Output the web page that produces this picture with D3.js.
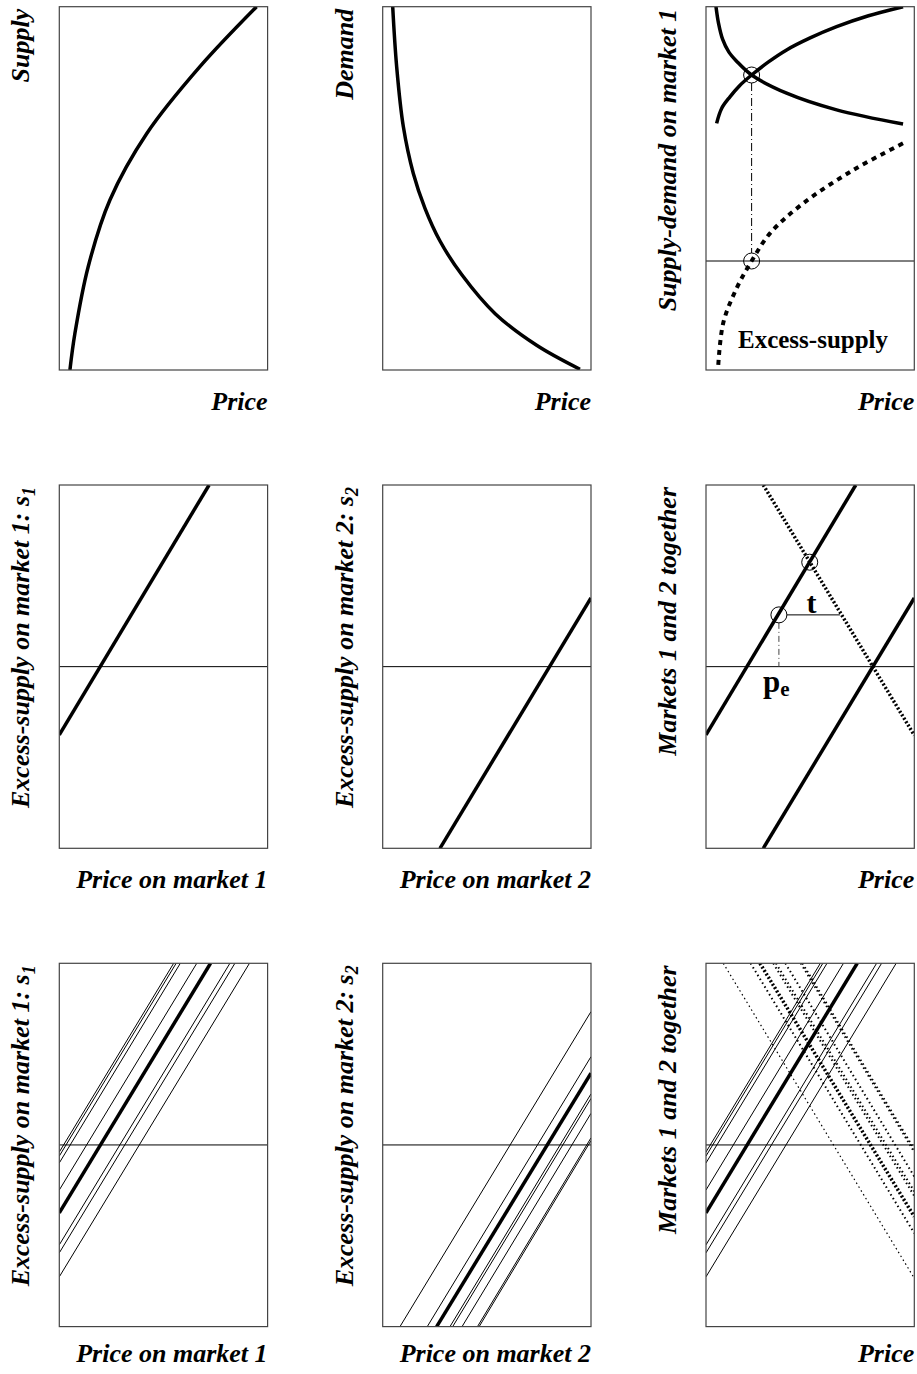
<!DOCTYPE html>
<html>
<head>
<meta charset="utf-8">
<script src="https://cdn.jsdelivr.net/npm/d3@7"></script>
<style>
    body { margin: 0; background: #fff; }
    svg text { font-family: "Liberation Serif", "Times New Roman", serif; font-weight: bold; }
</style>
</head>
<body>
<div id="chart"></div>
<script>
//Datos (precio en eje x, cantidad en eje y)

//Fila 1 - oferta y demanda
const supplyPrice = [0.51, 0.75, 1.39, 2.43, 4.20, 6.75, 9.47];
const supplyQty = [0, 1.01, 2.85, 4.68, 6.51, 8.35, 10];
const demandPrice = [0.48, 0.67, 0.99, 1.47, 2.03, 2.75, 3.80, 5.40, 7.39, 9.47];
const demandQty = [10, 8.35, 6.70, 5.41, 4.45, 3.55, 2.62, 1.55, 0.68, 0.02];

//Mercado 1: oferta, demanda y exceso de oferta
const m1SupplyPrice = [0.51, 0.75, 1.15, 1.60, 2.19, 3.00, 3.87, 5.00, 6.27, 7.80, 9.46];
const m1SupplyQty = [3.79, 4.20, 4.52, 4.82, 5.12, 5.48, 5.81, 6.14, 6.45, 6.75, 7.00];
const m1DemandPrice = [0.48, 0.60, 0.80, 1.10, 1.47, 2.19, 3.87, 6.27, 9.46];
const m1DemandQty = [7.00, 6.55, 6.10, 5.75, 5.50, 5.12, 4.62, 4.16, 3.77];
const m1ExcessPrice = [0.59, 0.83, 1.47, 2.19, 3.07, 4.67, 7.06, 9.46];
const m1ExcessQty = [-2.86, -1.70, -0.75, 0, 0.76, 1.59, 2.50, 3.24];
const m1EqPrice = 2.19, m1EqQty = 5.12;

//Fila 2 - curvas de exceso de oferta (dos puntos por recta)
const s1Line = [[0, -3.76], [7.19, 10]];
const s2Line = [[2.75, -10], [10, 3.78]];
const jointCircles = [[4.98, 5.75], [3.50, 2.85]];
const tariffLevel = 2.85, tariffFrom = 3.50, tariffTo = 6.43;

//Fila 3 - escenarios (la gruesa es el caso base)
const s1LeftQty = [-0.39, -0.61, -0.99, -2.48, -3.74, -5.50, -5.94, -7.26];
const s1TopPrice = [5.49, 5.61, 5.81, 6.60, 7.26, 8.19, 8.43, 9.13];
const s1Base = 4;
const s2BottomPrice = [0.83, 2.14, 2.59, 3.23, 3.36, 3.81, 4.55, 4.63];
const s2RightQty = [7.34, 4.86, 3.95, 2.81, 2.56, 1.74, 0.39, 0.24];
const s2Base = 2;

//Textos
const yLabels = [
    ['Supply', 'Demand', 'Supply-demand on market 1'],
    [['Excess-supply on market 1: s', '1'], ['Excess-supply on market 2: s', '2'], 'Markets 1 and 2 together'],
    [['Excess-supply on market 1: s', '1'], ['Excess-supply on market 2: s', '2'], 'Markets 1 and 2 together']
];
const xLabels = [
    ['Price', 'Price', 'Price'],
    ['Price on market 1', 'Price on market 2', 'Price'],
    ['Price on market 1', 'Price on market 2', 'Price']
];

//Maquetación
const colX = [59.3, 382.7, 706], rowY = [6.7, 485, 963.3];
const W = 208.3, H = 363.3;
const xLabelGap = [40, 40, 35];
const FONT = 26;
const R = 8;

let svg = d3.select('#chart').append('svg')
    .attr('width', 917)
    .attr('height', 1374);

let clipId = 0;

function makePanel(row, col, yDomain) {
    let left = colX[col], top = rowY[row];
    let x = d3.scaleLinear().domain([0, 10]).range([left, left + W]);
    let y = d3.scaleLinear().domain(yDomain).range([top + H, top]);

    let id = 'clip' + (clipId++);
    svg.append('clipPath').attr('id', id)
        .append('rect').attr('x', left).attr('y', top).attr('width', W).attr('height', H);

    let outer = svg.append('g');
    let g = outer.append('g').attr('clip-path', 'url(#' + id + ')');

    //Etiqueta eje y (girada)
    let lab = yLabels[row][col];
    let yt = outer.append('text')
        .attr('transform', 'translate(' + (left - 30) + ',' + (top + 2) + ') rotate(-90)')
        .attr('text-anchor', 'end')
        .style('font-style', 'italic')
        .style('font-size', FONT + 'px');
    if (Array.isArray(lab)) {
        yt.append('tspan').text(lab[0]);
        yt.append('tspan').attr('dy', '0.3em').style('font-size', '18px').text(lab[1]);
    } else {
        yt.text(lab);
    }

    //Etiqueta eje x
    outer.append('text')
        .attr('x', left + W)
        .attr('y', top + H + xLabelGap[row])
        .attr('text-anchor', 'end')
        .style('font-style', 'italic')
        .style('font-size', FONT + 'px')
        .text(xLabels[row][col]);

    return { g: g, outer: outer, x: x, y: y, left: left, top: top };
}

function drawBox(p) {
    p.outer.append('rect')
        .attr('x', p.left).attr('y', p.top)
        .attr('width', W).attr('height', H)
        .attr('fill', 'none')
        .attr('stroke', '#444')
        .attr('stroke-width', 1.2);
}

function zeroLine(p) {
    p.g.append('line')
        .attr('x1', p.x(0)).attr('x2', p.x(10))
        .attr('y1', p.y(0)).attr('y2', p.y(0))
        .attr('stroke', '#000')
        .attr('stroke-width', 1);
}

function path(p, pts, width, dash) {
    let line = d3.line()
        .x(function(d) { return p.x(d[0]); })
        .y(function(d) { return p.y(d[1]); })
        .curve(d3.curveCatmullRom.alpha(0.5));
    return p.g.append('path')
        .attr('d', line(pts))
        .attr('fill', 'none')
        .attr('stroke', '#000')
        .attr('stroke-width', width)
        .attr('stroke-dasharray', dash || null);
}

function circle(p, pt) {
    p.outer.append('circle')
        .attr('cx', p.x(pt[0])).attr('cy', p.y(pt[1]))
        .attr('r', R)
        .attr('fill', 'none')
        .attr('stroke', '#000')
        .attr('stroke-width', 1);
}

const zip = (a, b) => a.map((v, i) => [v, b[i]]);

/////
// Fila 1
/////
let p11 = makePanel(0, 0, [0, 10]);
path(p11, zip(supplyPrice, supplyQty), 3.5);
drawBox(p11);

let p12 = makePanel(0, 1, [0, 10]);
path(p12, zip(demandPrice, demandQty), 3.5);
drawBox(p12);

let p13 = makePanel(0, 2, [-3, 7]);
zeroLine(p13);
path(p13, zip(m1SupplyPrice, m1SupplyQty), 3.5);
path(p13, zip(m1DemandPrice, m1DemandQty), 3.5);
path(p13, zip(m1ExcessPrice, m1ExcessQty), 4, '5,5');
p13.g.append('line')
    .attr('x1', p13.x(m1EqPrice)).attr('x2', p13.x(m1EqPrice))
    .attr('y1', p13.y(m1EqQty) + R).attr('y2', p13.y(0) - R)
    .attr('stroke', '#000').attr('stroke-width', 1)
    .attr('stroke-dasharray', '8,3,1,3');
circle(p13, [m1EqPrice, m1EqQty]);
circle(p13, [m1EqPrice, 0]);
p13.outer.append('text')
    .attr('x', p13.left + 32)
    .attr('y', p13.top + H - 22)
    .style('font-size', '25px')
    .text('Excess-supply');
drawBox(p13);

/////
// Fila 2
/////
let p21 = makePanel(1, 0, [-10, 10]);
zeroLine(p21);
path(p21, s1Line, 3.5);
drawBox(p21);

let p22 = makePanel(1, 1, [-10, 10]);
zeroLine(p22);
path(p22, s2Line, 3.5);
drawBox(p22);

let p23 = makePanel(1, 2, [-10, 10]);
zeroLine(p23);
path(p23, s1Line, 3.5);
path(p23, s2Line, 3.5);
//Demanda del mercado 2 vista desde el mercado 1: -s2
path(p23, s2Line.map(function(d) { return [d[0], -d[1]]; }), 3.5, '2,2');
p23.g.append('line')
    .attr('x1', p23.x(tariffFrom) + R).attr('x2', p23.x(tariffTo))
    .attr('y1', p23.y(tariffLevel)).attr('y2', p23.y(tariffLevel))
    .attr('stroke', '#000').attr('stroke-width', 1);
p23.g.append('line')
    .attr('x1', p23.x(tariffFrom)).attr('x2', p23.x(tariffFrom))
    .attr('y1', p23.y(tariffLevel) + R).attr('y2', p23.y(0))
    .attr('stroke', '#444').attr('stroke-width', 1)
    .attr('stroke-dasharray', '6,3,1,3');
jointCircles.forEach(function(c) { circle(p23, c); });
p23.outer.append('text')
    .attr('x', (p23.x(tariffFrom) + R + p23.x(tariffTo)) / 2 - 2)
    .attr('y', p23.y(tariffLevel) - 2)
    .attr('text-anchor', 'middle')
    .style('font-size', '30px')
    .text('t');
let pe = p23.outer.append('text')
    .attr('x', p23.x(tariffFrom) - 16)
    .attr('y', p23.y(0) + 25)
    .style('font-size', '31px');
pe.append('tspan').text('p');
pe.append('tspan').attr('dy', '0.2em').style('font-size', '21px').text('e');
drawBox(p23);

/////
// Fila 3
/////
let s1Lines = s1LeftQty.map(function(v, i) { return [[0, v], [s1TopPrice[i], 10]]; });
let s2Lines = s2BottomPrice.map(function(v, i) { return [[v, -10], [10, s2RightQty[i]]]; });

let p31 = makePanel(2, 0, [-10, 10]);
zeroLine(p31);
s1Lines.forEach(function(l, i) { path(p31, l, i == s1Base ? 3.5 : 1); });
drawBox(p31);

let p32 = makePanel(2, 1, [-10, 10]);
zeroLine(p32);
s2Lines.forEach(function(l, i) { path(p32, l, i == s2Base ? 3.5 : 1); });
drawBox(p32);

let p33 = makePanel(2, 2, [-10, 10]);
zeroLine(p33);
s1Lines.forEach(function(l, i) { path(p33, l, i == s1Base ? 3.5 : 1); });
s2Lines.forEach(function(l, i) {
    let m = l.map(function(d) { return [d[0], -d[1]]; });
    if (i == s2Base) path(p33, m, 3.5, '2,2');
    else path(p33, m, i == 0 ? 1.2 : 2, '1.5,3');
});
drawBox(p33);
</script>
</body>
</html>
